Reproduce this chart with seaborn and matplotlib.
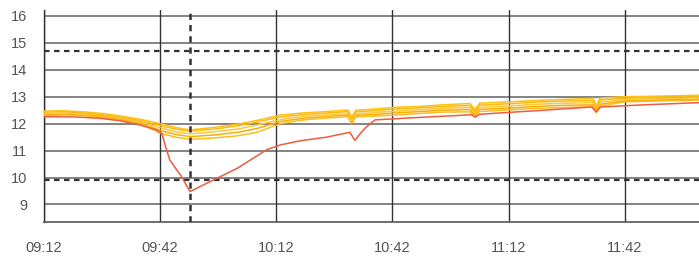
import pandas as pd
import numpy as np
import matplotlib
matplotlib.use("Agg")
import matplotlib.pyplot as plt
import matplotlib.dates as mdates
import seaborn as sns

# minutes after 09:12
start = pd.Timestamp("2024-01-01 09:12")

red_t = [0, 8, 14.5, 20, 24.8, 29.1, 30.5, 31.3, 32.5, 35.5, 37.7,
         50, 57.5, 61, 66, 73, 79, 80.3, 81.6, 83, 85.5,
         98, 110.5, 111.4, 112.5, 127, 141.5, 142.6, 143.8, 155, 169.2]
red_v = [12.26, 12.25, 12.2, 12.1, 11.95, 11.77, 11.62, 11.2, 10.65, 10.04, 9.48,
         10.35, 11.03, 11.21, 11.36, 11.5, 11.68, 11.38, 11.62, 11.84, 12.14,
         12.24, 12.33, 12.24, 12.35, 12.48, 12.62, 12.44, 12.62, 12.7, 12.78]

yel_t = [0, 5, 10, 15, 20, 25, 30, 34, 37.7, 44, 50, 55, 61, 67, 73, 78.5, 79.5, 80.5,
         85, 91, 97, 103, 110, 111.3, 112.5, 120, 127, 134, 141.8, 142.7, 143.6,
         150, 158, 165, 170]
yel_a = [12.47, 12.48, 12.44, 12.38, 12.28, 12.16, 12.0, 11.86, 11.77, 11.86, 11.98, 12.12,
         12.32, 12.4, 12.45, 12.51, 12.25, 12.5, 12.54, 12.61, 12.64, 12.7, 12.75, 12.52,
         12.76, 12.81, 12.86, 12.9, 12.94, 12.66, 12.95, 13.0, 13.02, 13.04, 13.06]
yel_b = [12.43, 12.45, 12.4, 12.33, 12.24, 12.12, 11.93, 11.8, 11.72, 11.8, 11.92, 12.06,
         12.25, 12.34, 12.4, 12.45, 12.18, 12.44, 12.48, 12.55, 12.59, 12.64, 12.68, 12.46,
         12.69, 12.74, 12.8, 12.84, 12.86, 12.58, 12.88, 12.95, 12.98, 13.0, 13.02]
yel_c = [12.38, 12.4, 12.36, 12.3, 12.2, 12.07, 11.85, 11.7, 11.62, 11.7, 11.8, 11.95,
         12.15, 12.27, 12.33, 12.38, 12.1, 12.37, 12.41, 12.47, 12.52, 12.57, 12.6, 12.4,
         12.61, 12.66, 12.72, 12.76, 12.78, 12.5, 12.8, 12.9, 12.93, 12.95, 12.97]
yel_d = [12.33, 12.36, 12.33, 12.27, 12.17, 12.03, 11.75, 11.6, 11.52, 11.58, 11.68, 11.82,
         12.08, 12.2, 12.27, 12.32, 12.05, 12.31, 12.34, 12.4, 12.45, 12.5, 12.52, 12.34,
         12.53, 12.58, 12.64, 12.68, 12.7, 12.44, 12.72, 12.85, 12.88, 12.9, 12.92]
yel_e = [12.3, 12.33, 12.3, 12.24, 12.14, 12.0, 11.65, 11.5, 11.42, 11.47, 11.55, 11.68,
         12.0, 12.14, 12.21, 12.26, 12.0, 12.25, 12.28, 12.32, 12.38, 12.43, 12.44, 12.28,
         12.45, 12.51, 12.57, 12.6, 12.63, 12.4, 12.65, 12.81, 12.84, 12.86, 12.88]

upper_limit = 14.7
lower_limit = 9.9
marker_min = 37.7
y_ticks = [9, 10, 11, 12, 13, 14, 15, 16]
x_tick_min = [0, 30, 60, 90, 120, 150]
x_end_min = 169.2

frames = [pd.DataFrame({"t": start + pd.to_timedelta(red_t, unit="m"), "v": red_v, "s": "red"})]
for name, vals in zip("abcde", [yel_a, yel_b, yel_c, yel_d, yel_e]):
    frames.append(pd.DataFrame({"t": start + pd.to_timedelta(yel_t, unit="m"), "v": vals, "s": name}))
df = pd.concat(frames, ignore_index=True)

palette = {"red": "#ef5b3f", "a": "#fcc218", "b": "#f9b814", "c": "#ffc83a",
           "d": "#f6ae0c", "e": "#fbbd24"}

sns.set_style("white")
plt.rcParams["font.family"] = ["Liberation Sans", "DejaVu Sans"]

fig = plt.figure(figsize=(6.99, 2.6), dpi=100)
ax = fig.add_axes([44 / 699, 1 - 222 / 260, 1 - 44 / 699, 212 / 260])

order = ["e", "d", "c", "b", "a", "red"]
for s in order:
    sub = df[df["s"] == s]
    sns.lineplot(data=sub, x="t", y="v", color=palette[s], lw=1.1, ax=ax,
                 legend=False, zorder=3)

ax.set_ylim(8.35, 16.22)
ax.set_xlim(start, start + pd.Timedelta(minutes=x_end_min))

# grid
for yv in y_ticks:
    ax.axhline(yv, color="#6e6e6e", lw=1.2, zorder=1)
xt = [start + pd.Timedelta(minutes=m) for m in x_tick_min]
for xv in xt:
    ax.axvline(xv, color="#333333", lw=1.0, zorder=1)

# limit lines
ax.axhline(upper_limit, color="#333333", lw=1.6, ls=(0, (2.5, 2)), zorder=2)
ax.axhline(lower_limit, color="#333333", lw=1.6, ls=(0, (2.5, 2)), zorder=2)
ax.axvline(start + pd.Timedelta(minutes=marker_min), color="#333333", lw=1.8,
           ls=(0, (2.5, 2)), zorder=4)

ax.set_yticks(y_ticks)
ax.set_yticks([8.35, 16.22], minor=True)
ax.set_xticks(xt)
ax.xaxis.set_major_formatter(mdates.DateFormatter("%H:%M"))
ax.tick_params(axis="y", which="both", length=8, width=1.2, color="#6e6e6e",
               labelsize=10.5, labelcolor="#555555", pad=4)
ax.tick_params(axis="x", length=9, width=1.0, color="#333333",
               labelsize=10.5, labelcolor="#555555", pad=5)
ax.set_xlabel("")
ax.set_ylabel("")

for side in ["top", "right"]:
    ax.spines[side].set_visible(False)
ax.spines["left"].set_color("#333333")
ax.spines["left"].set_linewidth(1.0)
ax.spines["bottom"].set_color("#555555")
ax.spines["bottom"].set_linewidth(1.2)

fig.savefig("out.png", dpi=100)
